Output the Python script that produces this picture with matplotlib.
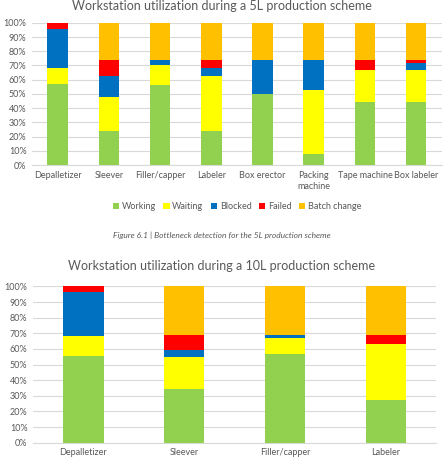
import matplotlib
matplotlib.use("Agg")
import matplotlib.pyplot as plt
import numpy as np

plt.rcParams['font.family'] = ['Lato', 'DejaVu Sans']

# 5L production scheme (percent)
stations_5l = ['Depalletizer', 'Sleever', 'Filler/capper', 'Labeler', 'Box erector',
               'Packing\nmachine', 'Tape machine', 'Box labeler']
working_5l = [57, 24, 56, 24, 50, 8, 44.5, 44.5]
waiting_5l = [11.5, 23.5, 14, 38.5, 0, 44.5, 22.2, 22.2]
blocked_5l = [27, 15, 3.8, 5.5, 24, 21.5, 0, 4.7]
failed_5l = [4.5, 11.5, 0, 6, 0, 0, 7.3, 2.4]
batch_5l = [0, 26, 26.2, 26, 26, 26, 26, 26.2]

# 10L production scheme (percent)
stations_10l = ['Depalletizer', 'Sleever', 'Filler/capper', 'Labeler']
working_10l = [55.5, 34.5, 57, 27.3]
waiting_10l = [12.5, 20.5, 10, 35.7]
blocked_10l = [28.4, 4.5, 2, 0]
failed_10l = [3.6, 9.5, 0, 6]
batch_10l = [0, 31, 31, 31]

states = ['Working', 'Waiting', 'Blocked', 'Failed', 'Batch change']
colors = ['#92D050', '#FFFF00', '#0070C0', '#FF0000', '#FFC000']
text_col = '#595959'
grid_col = '#D9D9D9'


def stacked(ax, labels, series, width=0.4):
    x = np.arange(len(labels))
    bottom = np.zeros(len(labels))
    for vals, c, name in zip(series, colors, states):
        v = np.array(vals) / 100.0
        ax.bar(x, v, width, bottom=bottom, color=c, label=name, zorder=3)
        bottom += v
    ax.set_xlim(-0.5, len(labels) - 0.5)
    ax.set_ylim(0, 1)
    ax.set_yticks(np.arange(0, 1.01, 0.1))
    ax.set_yticklabels(['%d%%' % v for v in range(0, 101, 10)])
    ax.set_xticks(x)
    ax.set_xticklabels(labels, linespacing=1.3)
    ax.grid(axis='y', color=grid_col, linewidth=0.8, zorder=0)
    for s in ['top', 'right', 'left']:
        ax.spines[s].set_visible(False)
    ax.spines['bottom'].set_color(grid_col)
    ax.tick_params(length=0, labelsize=6.5, colors=text_col, pad=4)


fig = plt.figure(figsize=(4.44, 4.65), dpi=100)

ax1 = fig.add_axes([0.072, 0.645, 0.923, 0.306])
stacked(ax1, stations_5l, [working_5l, waiting_5l, blocked_5l, failed_5l, batch_5l])
fig.text(0.5, 1 - 0.5 / 465, 'Workstation utilization during a 5L production scheme',
         ha='center', va='top', fontsize=9, color=text_col)
ax1.legend(loc='center', bbox_to_anchor=(0.5, (1 - 207 / 465 - 0.645) / 0.306),
           ncol=5, frameon=False, fontsize=6.5, labelcolor=text_col,
           handlelength=0.7, handleheight=0.7, handletextpad=0.3, columnspacing=0.8)

fig.text(0.5, 1 - 235 / 465, 'Figure 6.1 | Bottleneck detection for the 5L production scheme',
         ha='center', va='center', fontsize=6, style='italic', color=text_col)

ax2 = fig.add_axes([0.0743, 0.048, 0.908, 0.336])
stacked(ax2, stations_10l, [working_10l, waiting_10l, blocked_10l, failed_10l, batch_10l])
fig.text(0.5, 1 - 266 / 465, 'Workstation utilization during a 10L production scheme',
         ha='center', va='center', fontsize=9, color=text_col)

fig.savefig('out.png', dpi=100)
